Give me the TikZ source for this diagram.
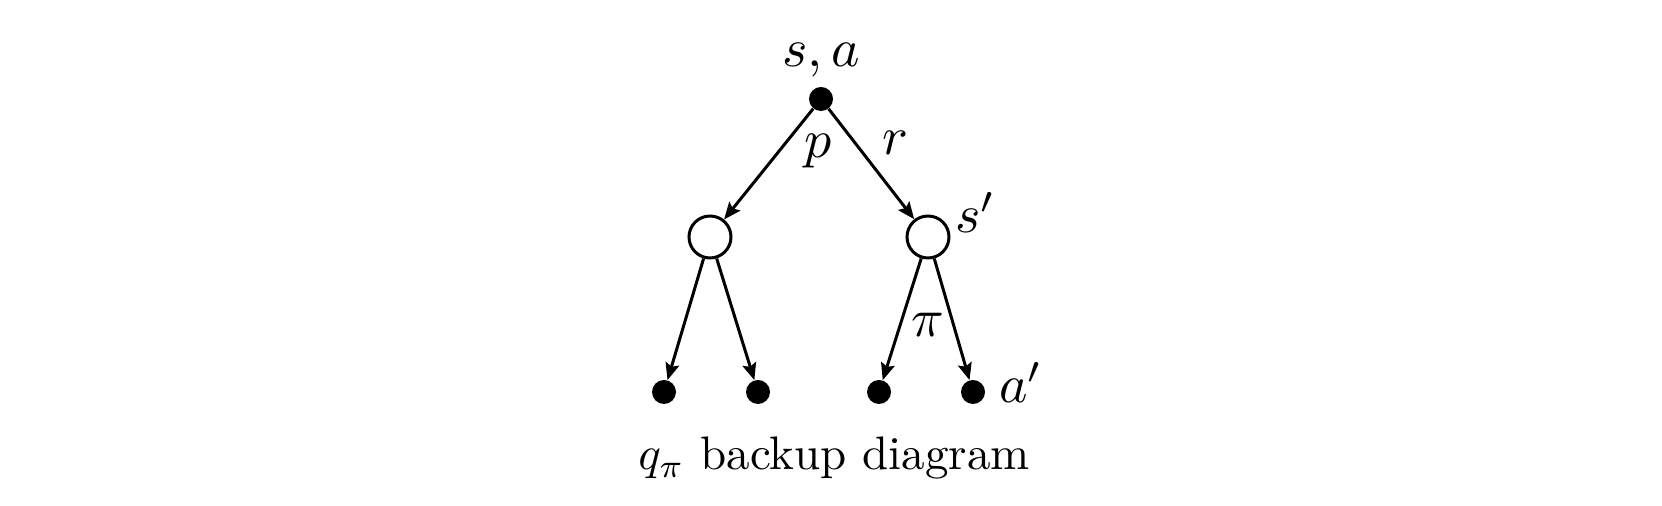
\documentclass[tikz,border=0pt]{standalone}
\usetikzlibrary{arrows.meta}
\tikzset{
  dot/.style={circle,fill=black,inner sep=0pt,minimum size=12pt},
  hollow/.style={circle,draw=black,line width=1.5pt,fill=white,inner sep=0pt,minimum size=21pt},
  arr/.style={line width=1.5pt,-{Stealth[length=8.5pt,width=7pt,inset=1.5pt]}},
  lab/.style={inner sep=0pt,anchor=base,scale=2.7},
  captext/.style={inner sep=0pt,anchor=base,scale=2.35}
}
\begin{document}
\begin{tikzpicture}[x=0.5pt,y=-0.5pt]
\useasboundingbox (0,0) rectangle (1662,506);
\node[dot] (A) at (821,99) {};
\node[hollow] (L) at (710,237) {};
\node[hollow] (R) at (928,237) {};
\node[dot] (B1) at (664,392) {};
\node[dot] (B2) at (758,392) {};
\node[dot] (B3) at (879,392) {};
\node[dot] (B4) at (973,392) {};
\draw[arr] (A) -- (L);
\draw[arr] (A) -- (R);
\draw[arr] (L) -- (B1);
\draw[arr] (L) -- (B2);
\draw[arr] (R) -- (B3);
\draw[arr] (R) -- (B4);
\node[lab] (sa) at (821,67) {$s,a$};
\node[lab] (p) at (818,158) {$p$};
\node[lab] (r) at (895,155) {$r$};
\node[lab,anchor=base west] (sp) at (954,233) {$s'$};
\node[lab] (pi) at (928,337) {$\pi$};
\node[lab,anchor=base west] (ap) at (998,403) {$a'$};
\node[captext] (caption) at (834,470) {$q_\pi$ backup diagram};
\end{tikzpicture}
\end{document}
